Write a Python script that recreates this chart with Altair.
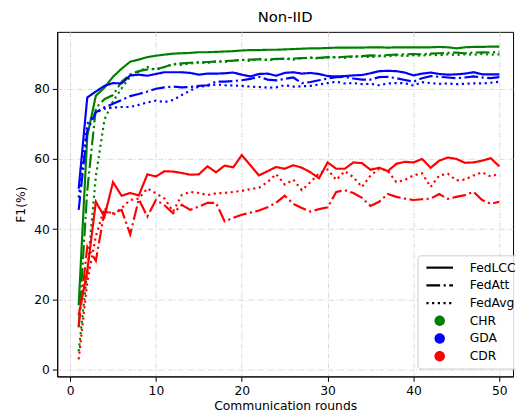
import altair as alt
import pandas as pd

rounds = list(range(1, 51))
methods = ["FedLCC", "FedAtt", "FedAvg"]
datasets = ["CHR", "GDA", "CDR"]
colors = ["#008000", "#0000ff", "#ff0000"]

chr_lcc = [18.3, 66.5, 78.0, 80.3, 83.4, 85.7, 87.7, 88.3, 89.0, 89.4,
           89.7, 90.0, 90.1, 90.2, 90.4, 90.4, 90.5, 90.6, 90.7, 90.9,
           91.0, 91.0, 91.1, 91.1, 91.2, 91.3, 91.4, 91.5, 91.5, 91.6,
           91.7, 91.7, 91.7, 91.7, 91.8, 91.8, 91.7, 91.8, 91.8, 91.8,
           91.8, 91.8, 91.9, 91.8, 91.5, 91.8, 91.9, 91.9, 92.0, 92.0]
chr_att = [12.0, 51.0, 74.5, 77.0, 78.2, 82.0, 84.1, 85.0, 85.5, 85.6,
           86.2, 87.0, 87.2, 87.4, 87.5, 87.6, 87.7, 87.9, 88.0, 88.2,
           88.3, 88.4, 88.3, 88.5, 88.5, 88.6, 88.7, 88.8, 88.8, 89.0,
           88.9, 89.1, 89.2, 89.3, 89.5, 89.4, 89.6, 89.7, 89.8, 89.9,
           89.8, 90.0, 90.1, 90.2, 90.3, 90.1, 90.3, 90.4, 90.3, 90.5]
chr_avg = [5.2, 28.0, 55.0, 71.2, 76.4, 80.1, 83.4, 84.8, 86.2, 85.4,
           86.2, 87.0, 86.8, 87.2, 87.5, 87.3, 87.8, 87.6, 88.0, 88.2,
           87.9, 88.5, 88.1, 88.4, 88.6, 88.3, 88.7, 88.9, 88.6, 88.9,
           89.0, 88.8, 89.1, 89.2, 89.0, 89.3, 89.2, 89.5, 89.3, 89.6,
           89.4, 89.7, 89.5, 89.8, 89.6, 89.8, 89.7, 89.9, 89.7, 89.8]
gda_lcc = [51.5, 77.5, 79.2, 80.8, 81.6, 81.5, 83.8, 84.0, 83.7, 84.2,
           84.7, 84.7, 84.7, 84.5, 84.0, 84.3, 84.3, 84.4, 84.6, 84.0,
           83.5, 84.2, 84.3, 83.7, 84.5, 84.7, 84.3, 84.5, 84.2, 83.6,
           83.5, 83.6, 83.8, 83.9, 84.4, 85.0, 85.1, 85.0, 84.6, 83.8,
           84.3, 84.6, 84.2, 84.0, 84.1, 84.3, 84.7, 84.1, 84.1, 84.1]
gda_att = [45.5, 68.0, 73.3, 74.7, 75.7, 76.8, 77.9, 78.5, 79.2, 80.0,
           80.4, 80.6, 80.4, 80.5, 80.8, 81.0, 82.0, 82.0, 82.2, 82.4,
           82.8, 83.4, 82.6, 82.4, 82.8, 83.2, 81.6, 81.9, 82.4, 82.9,
           83.3, 83.4, 82.9, 82.6, 82.6, 83.3, 83.4, 83.0, 82.5, 82.0,
           83.0, 83.6, 83.4, 83.2, 83.0, 83.2, 83.5, 83.2, 83.0, 83.3]
gda_avg = [49.0, 70.0, 73.3, 74.3, 74.6, 74.8, 74.8, 75.4, 76.1, 76.6,
           76.2, 76.8, 78.2, 79.5, 80.6, 80.8, 81.2, 81.0, 80.9, 80.8,
           80.6, 80.5, 80.3, 80.4, 81.0, 80.6, 80.7, 80.8, 81.2, 81.6,
           82.0, 81.5, 81.6, 81.3, 81.4, 81.0, 81.5, 81.6, 81.6, 80.9,
           81.9, 81.6, 81.4, 81.5, 81.3, 81.4, 81.5, 81.5, 81.7, 82.0]
cdr_lcc = [15.5, 28.0, 47.8, 43.5, 53.4, 49.5, 50.3, 49.6, 55.6, 55.0,
           56.5, 56.4, 56.0, 55.5, 55.6, 57.9, 56.2, 58.1, 57.6, 61.1,
           58.2, 55.3, 56.5, 57.7, 57.2, 58.2, 57.5, 56.2, 54.5, 59.0,
           57.2, 57.2, 59.0, 58.8, 56.9, 57.5, 56.5, 58.6, 59.2, 59.0,
           60.0, 57.5, 59.5, 60.4, 60.0, 58.9, 59.0, 59.5, 60.2, 57.9]
cdr_att = [12.3, 35.0, 31.0, 45.0, 44.5, 45.5, 38.5, 48.5, 43.6, 48.3,
           46.8, 44.5, 46.9, 45.5, 46.4, 47.5, 47.5, 42.2, 43.2, 44.1,
           44.7, 45.3, 46.2, 47.5, 49.5, 47.2, 46.0, 45.0, 45.7, 46.2,
           50.6, 51.1, 50.3, 48.9, 46.6, 47.8, 50.0, 49.2, 48.7, 48.3,
           48.5, 48.7, 50.0, 48.6, 49.2, 49.7, 50.6, 48.3, 47.2, 47.8]
cdr_avg = [2.9, 25.0, 38.0, 46.0, 44.0, 46.0, 48.3, 48.7, 51.6, 50.2,
           48.7, 45.0, 49.7, 50.6, 50.3, 49.7, 50.2, 50.3, 50.6, 50.9,
           51.4, 51.8, 53.4, 55.7, 52.7, 54.1, 51.1, 53.4, 55.9, 57.0,
           54.0, 56.5, 54.8, 52.0, 55.3, 57.2, 56.7, 53.4, 54.0, 55.3,
           55.9, 52.0, 55.3, 55.8, 53.9, 54.1, 55.3, 56.2, 55.0, 55.8]

series = {
    ("CHR", "FedLCC"): chr_lcc, ("CHR", "FedAtt"): chr_att, ("CHR", "FedAvg"): chr_avg,
    ("GDA", "FedLCC"): gda_lcc, ("GDA", "FedAtt"): gda_att, ("GDA", "FedAvg"): gda_avg,
    ("CDR", "FedLCC"): cdr_lcc, ("CDR", "FedAtt"): cdr_att, ("CDR", "FedAvg"): cdr_avg,
}

rows = []
for (ds, m), vals in series.items():
    for r, v in zip(rounds, vals):
        rows.append({"round": r, "f1": v, "dataset": ds, "method": m})
df = pd.DataFrame(rows)

FONT = "DejaVu Sans"
dashes = [[1, 0], [14, 3.5, 2.2, 3.5], [2.2, 3.6]]

lines = alt.Chart(df).mark_line(strokeWidth=2.2, clip=True).encode(
    x=alt.X("round:Q",
            scale=alt.Scale(domain=[-1.5, 51.6], nice=False, zero=False),
            axis=alt.Axis(values=[0, 10, 20, 30, 40, 50], title="Communication rounds")),
    y=alt.Y("f1:Q",
            scale=alt.Scale(domain=[-1.96, 96.2], nice=False, zero=False),
            axis=alt.Axis(values=[0, 20, 40, 60, 80], title="F1(%)")),
    color=alt.Color("dataset:N", scale=alt.Scale(domain=datasets, range=colors), legend=None),
    strokeDash=alt.StrokeDash("method:N", scale=alt.Scale(domain=methods, range=dashes), legend=None),
)

# legend entries (symbol paths in units scaled by sqrt(size)/2)
legend_keys = methods + datasets
legend_fills = ["black", "black", "black"] + colors
h = 0.17
def rect(a, b):
    return f"M{a},{-h}H{b}V{h}H{a}Z"
solid_path = rect(-2.08, 2.08)
dashdot_path = rect(-2.08, 0.07) + rect(0.61, 0.95) + rect(1.49, 2.08)
dotted_path = "".join(rect(round(s, 3), round(s + 0.34, 3)) for s in [-2.08, -1.19, -0.30, 0.59, 1.48])
circle_path = "M0.815,0A0.815,0.815,0,1,1,-0.815,0A0.815,0.815,0,1,1,0.815,0Z"
legend_shapes = [solid_path, dashdot_path, dotted_path, circle_path, circle_path, circle_path]

legend_layer = alt.Chart(pd.DataFrame({"key": legend_keys})).transform_filter("false").mark_point(
    filled=True, opacity=1, size=169
).encode(
    fill=alt.Fill("key:N", scale=alt.Scale(domain=legend_keys, range=legend_fills),
                  legend=alt.Legend(title=None)),
    shape=alt.Shape("key:N", scale=alt.Scale(domain=legend_keys, range=legend_shapes),
                    legend=alt.Legend(title=None)),
)

chart = alt.layer(lines, legend_layer).resolve_scale(
    color="independent"
).properties(
    width=463, height=350,
    title=alt.TitleParams("Non-IID", fontSize=15, font=FONT, fontWeight="normal",
                          anchor="middle", offset=7, color="black"),
    padding={"left": 50, "top": 21, "right": 3, "bottom": 39},
    autosize="none",
).configure_view(
    stroke="black", strokeWidth=1
).configure_axis(
    labelFont=FONT, labelFontSize=12.5, labelColor="black",
    titleFont=FONT, titleFontSize=12.5, titleFontWeight="normal", titleColor="black",
    domainColor="black", domainWidth=1, tickColor="black", tickSize=5, tickWidth=1,
    labelPadding=3,
    grid=True, gridColor="#d4d4d4", gridWidth=0.9, gridDash=[5, 2, 1.2, 2],
).configure_axisX(
    titlePadding=3
).configure_axisY(
    titlePadding=6
).configure_legend(
    orient="none", legendX=366, legendY=227,
    padding=6, fillColor="rgba(255,255,255,0.85)", strokeColor="#cccccc", cornerRadius=3,
    labelFont=FONT, labelFontSize=12.5, labelColor="black",
    symbolSize=169, symbolOffset=10, labelOffset=24, rowPadding=5, symbolStrokeWidth=0,
)

chart.save("out.html", embed_options={"renderer": "svg", "actions": False})
